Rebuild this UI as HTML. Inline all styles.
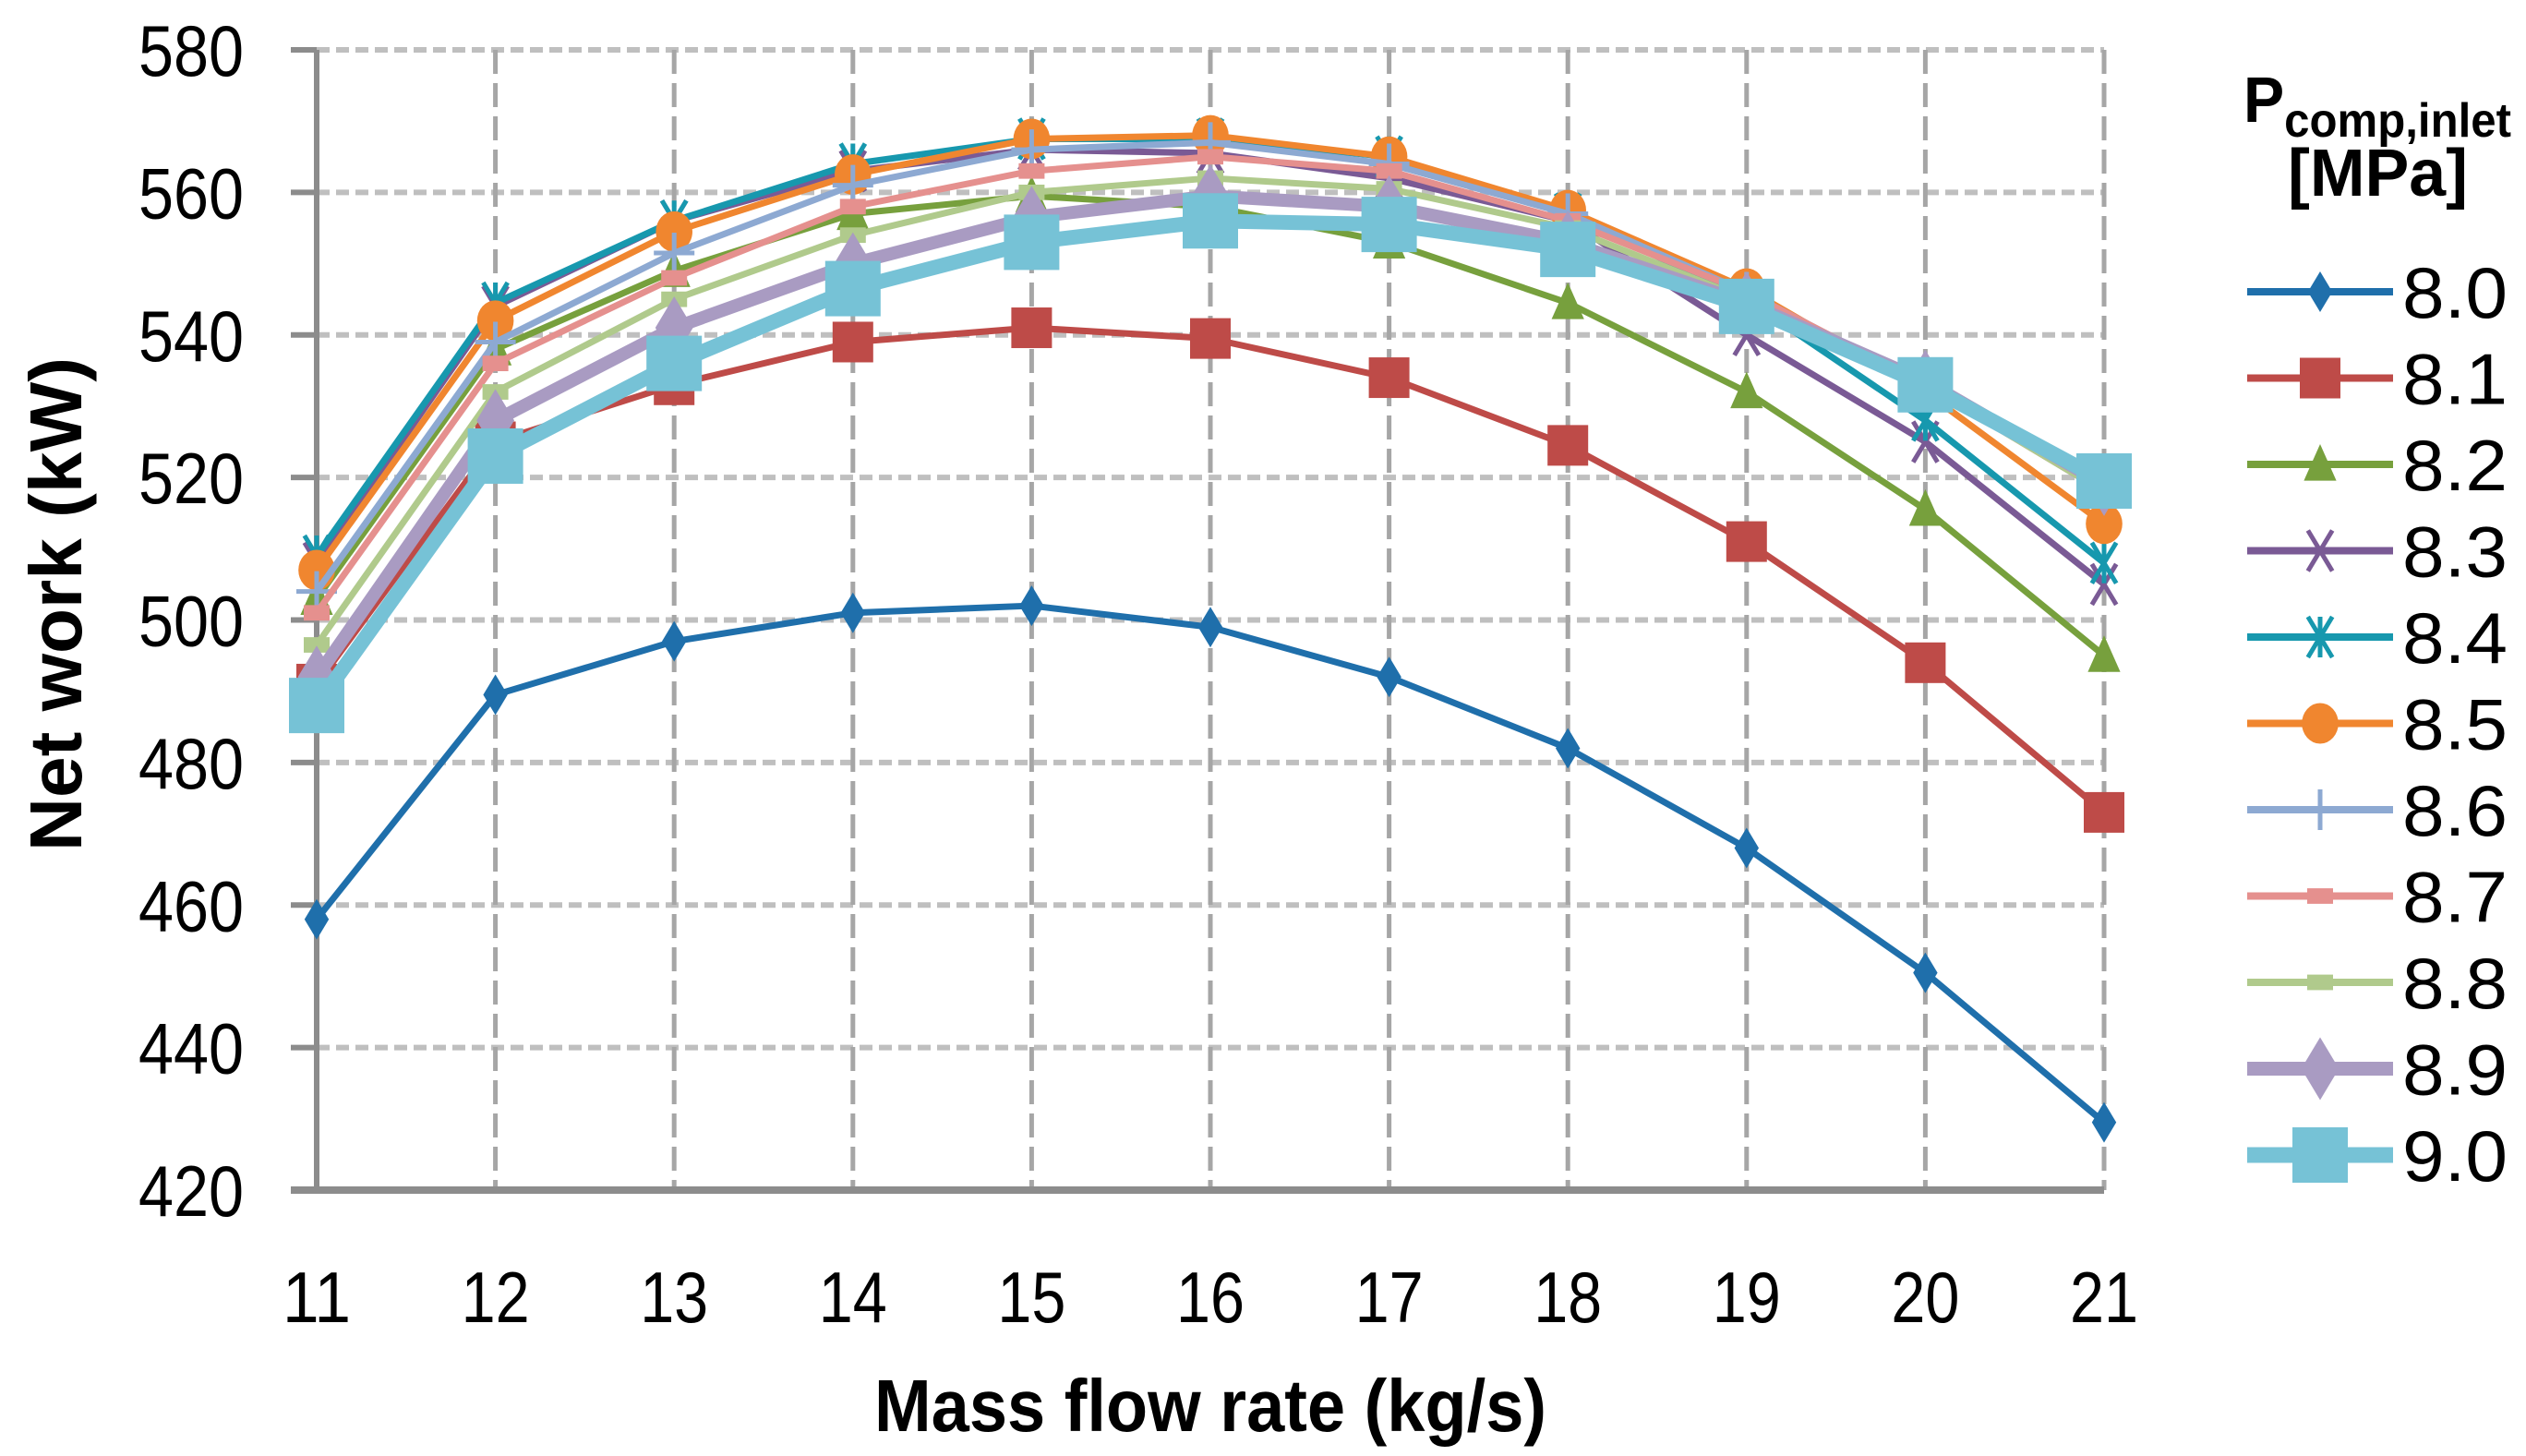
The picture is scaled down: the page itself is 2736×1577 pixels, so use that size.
<!DOCTYPE html>
<html><head><meta charset="utf-8"><style>
html,body{margin:0;padding:0;background:#fff;}
svg{display:block;}
text{font-family:"Liberation Sans",sans-serif;}
</style></head><body>
<svg id="chart" width="2736" height="1577" viewBox="0 0 2736 1577" xmlns="http://www.w3.org/2000/svg">
<g id="grid"></g>
<g id="axes"></g>
<g id="series"></g>
<g id="legend">
<text x="2430" y="132" font-size="70" font-weight="bold" fill="#000" textLength="290" lengthAdjust="spacingAndGlyphs">P<tspan font-size="52" dy="16">comp,inlet</tspan></text>
<text x="2478" y="212" font-size="72" font-weight="bold" fill="#000" textLength="195" lengthAdjust="spacingAndGlyphs">[MPa]</text>
</g>
<text x="947" y="1550" font-size="80" font-weight="bold" fill="#000" textLength="728" lengthAdjust="spacingAndGlyphs">Mass flow rate (kg/s)</text>
<text transform="translate(88,922) rotate(-90)" font-size="80" font-weight="bold" fill="#000" textLength="535" lengthAdjust="spacingAndGlyphs">Net work (kW)</text>
</svg>
<script>
const categories=[11,12,13,14,15,16,17,18,19,20,21];
const yTicks=[420,440,460,480,500,520,540,560,580];
const seriesNames=["8.0","8.1","8.2","8.3","8.4","8.5","8.6","8.7","8.8","8.9","9.0"];
const s80=[458,489.5,497,501,502,499,492,482,468,450.5,429.5];
const s81=[491,525,533,539,541,539.5,534,524.5,511,494,473];
const s82=[503,538,549,557,559.5,558,553,544.5,532,515.5,495];
const s83=[508,544,556,563,566,565.5,562,556,540,525,505];
const s84=[509,544.5,556,564,567.5,567.5,565,557,545,528,508];
const s85=[507,542,554.5,562.5,567.5,568,565,557.5,546.5,532,513.5];
const s86=[504,539,551.5,561,566,567,564,557,546,533,518];
const s87=[501,536,548,558,563,565,563,556,546,533,518];
const s88=[496.5,532,545,554,560,562,560.5,555,545,533,518];
const s89=[492,528,541,550,556.5,559.5,558,553,544.5,533.5,519];
const s90=[488,523,536,546.5,553,556,555.5,552,544,533,519.5];
const allSeries=[s80,s81,s82,s83,s84,s85,s86,s87,s88,s89,s90];

const NS="http://www.w3.org/2000/svg";
const X0=343,X1=2279,Y0=1289,Y1=54;
const xS=v=>X0+(v-11)/(21-11)*(X1-X0);
const yS=v=>Y0-(v-420)/(580-420)*(Y0-Y1);
function mk(tag,at,parent){const e=document.createElementNS(NS,tag);for(const k in at)e.setAttribute(k,at[k]);parent.appendChild(e);return e;}
const grid=document.getElementById('grid'),axes=document.getElementById('axes'),ser=document.getElementById('series'),leg=document.getElementById('legend');

yTicks.forEach(t=>{
  if(t!==420){const l=mk('line',{x1:X0,x2:X1,y1:yS(t),y2:yS(t),stroke:'#bfbfbf','stroke-width':6,'stroke-dasharray':'14 7'},grid);
  
  }
  const tk=mk('line',{x1:X0-28,x2:X0,y1:yS(t),y2:yS(t),stroke:'#8c8c8c','stroke-width':6},axes);
  
  
  const tx=mk('text',{x:150,y:yS(t)+28,'font-size':78,fill:'#000',textLength:114,lengthAdjust:'spacingAndGlyphs'},axes);
  
  
  tx.textContent=t;
});
categories.forEach(c=>{
  if(c!==11){const l=mk('line',{x1:xS(c),x2:xS(c),y1:Y1,y2:Y0,stroke:'#a6a6a6','stroke-width':5,'stroke-dasharray':'26 10'},grid);
  
  }
  const tx=mk('text',{x:xS(c)-37,y:1432,'font-size':78,fill:'#000',textLength:74,lengthAdjust:'spacingAndGlyphs'},axes);
  
  
  tx.textContent=c;
});
const ya=mk('line',{x1:X0,x2:X0,y1:Y1,y2:Y0,stroke:'#8c8c8c','stroke-width':6},axes);


const xa=mk('line',{x1:X0-28,x2:X1,y1:Y0,y2:Y0,stroke:'#8c8c8c','stroke-width':8},axes);



const colors=['#1F6FAB','#BE4B48','#77A03D','#7A5A95','#1798AE','#F0862F','#8DA9D2','#E5908E','#B0CA8C','#A99BC2','#76C2D6'];
const widths=[7,7,7,7,7,7,7,7,7,14,16];
const marks=['diamond','square','triangle','x','star','circle','plus','dash','dash','diamond','square'];
const msz=[22,22,22,22,22,22,22,14,14,34,30];
function marker(g,type,x,y,r,col){
  let e;
  if(type==='diamond')e=mk('polygon',{points:`${x},${y-r} ${x+r*0.6},${y} ${x},${y+r} ${x-r*0.6},${y}`,fill:col},g);
  else if(type==='square')e=mk('rect',{x:x-r,y:y-r,width:2*r,height:2*r,fill:col},g);
  else if(type==='triangle')e=mk('polygon',{points:`${x},${y-r} ${x+r*0.8},${y+r*0.8} ${x-r*0.8},${y+r*0.8}`,fill:col},g);
  else if(type==='circle')e=mk('ellipse',{cx:x,cy:y,rx:r*0.9,ry:r,fill:col},g);
  else if(type==='x')e=mk('path',{d:`M${x-r*0.6},${y-r}L${x+r*0.6},${y+r}M${x+r*0.6},${y-r}L${x-r*0.6},${y+r}`,stroke:col,'stroke-width':5,fill:'none'},g);
  else if(type==='star')e=mk('path',{d:`M${x-r*0.6},${y-r}L${x+r*0.6},${y+r}M${x+r*0.6},${y-r}L${x-r*0.6},${y+r}M${x},${y-r}L${x},${y+r}`,stroke:col,'stroke-width':5,fill:'none'},g);
  else if(type==='plus')e=mk('path',{d:`M${x},${y-r}L${x},${y+r}M${x-r},${y}L${x+r},${y}`,stroke:col,'stroke-width':5,fill:'none'},g);
  else e=mk('rect',{x:x-r,y:y-r*0.6,width:2*r,height:r*1.2,fill:col},g);
  return e;
}
allSeries.forEach((vals,i)=>{
  const g=mk('g',{},ser);
  
  
  const p=mk('polyline',{points:vals.map((v,j)=>xS(categories[j])+','+yS(v)).join(' '),fill:'none',stroke:colors[i],'stroke-width':widths[i],'stroke-linejoin':'round'},g);
  
  
  vals.forEach((v,j)=>{
    const m=marker(g,marks[i],xS(categories[j]),yS(v),msz[i],colors[i]);
    
    
  });
  const ly=316+i*93.5;
  const lg=mk('g',{},leg);
  
  
  mk('line',{x1:2434,x2:2592,y1:ly,y2:ly,stroke:colors[i],'stroke-width':widths[i]+1},lg);
  marker(lg,marks[i],2513,ly,msz[i],colors[i]);
  const t=mk('text',{x:2602,y:ly+28,'font-size':78,fill:'#000',textLength:114,lengthAdjust:'spacingAndGlyphs'},lg);
  
  
  t.textContent=seriesNames[i];
});
</script>
</body></html>
